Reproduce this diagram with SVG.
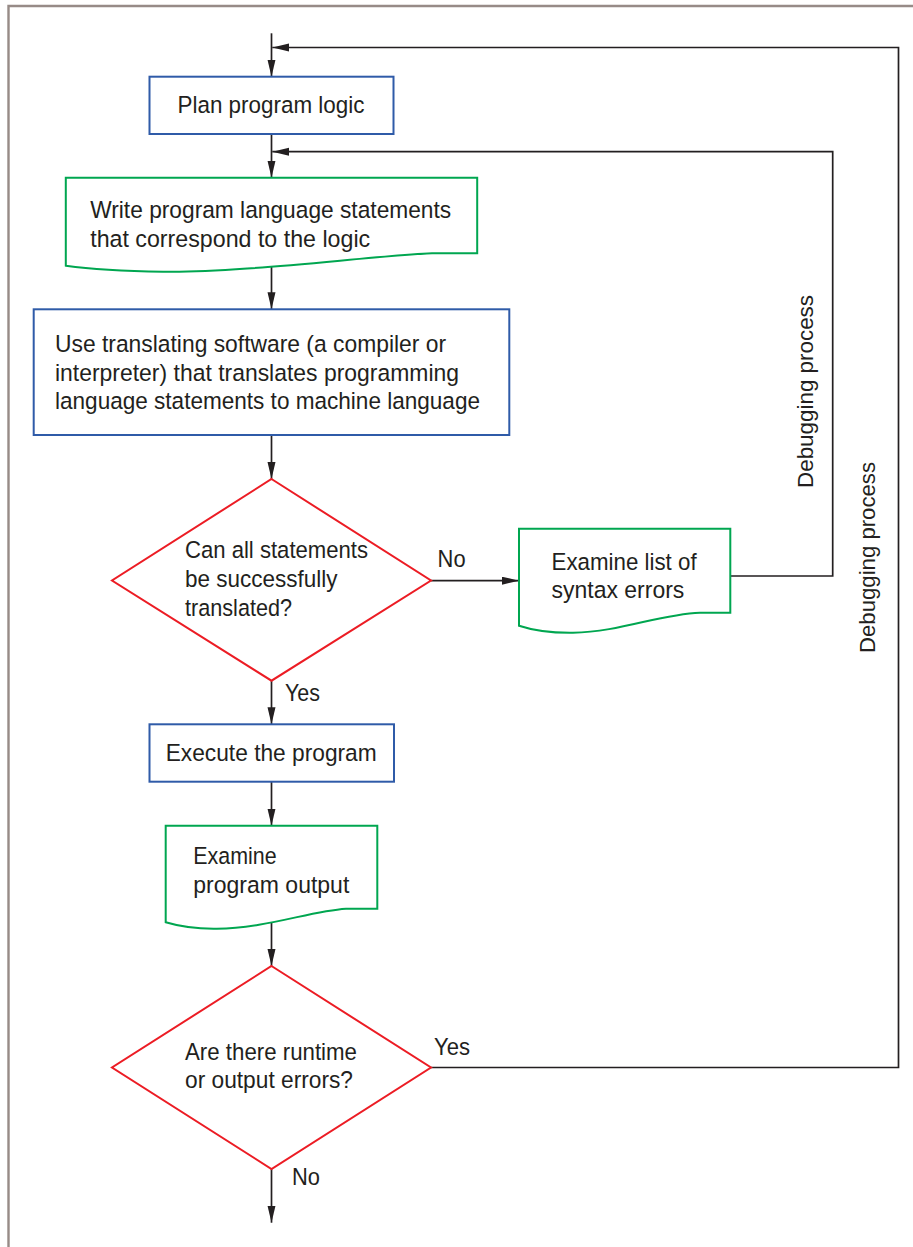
<svg xmlns="http://www.w3.org/2000/svg" width="913" height="1247" viewBox="0 0 913 1247">
<defs>
<marker id="ah" markerUnits="userSpaceOnUse" markerWidth="18" markerHeight="9" refX="17" refY="4" orient="auto">
<path d="M0,0 L17,4 L0,8 Z" fill="#231f20"/>
</marker>
<style>
.t{font-family:"Liberation Sans",Arial,sans-serif;font-size:24.5px;fill:#231f20}
.d{font-family:"Liberation Sans",Arial,sans-serif;font-size:22.5px;fill:#231f20}
.blue{fill:#fff;stroke:#2f5ba8;stroke-width:2}
.green{fill:#fff;stroke:#00a650;stroke-width:2}
.red{fill:#fff;stroke:#ec1c24;stroke-width:2}
.c{fill:none;stroke:#231f20;stroke-width:1.7}
.a{marker-end:url(#ah)}
.frame{fill:none;stroke:#978b87;stroke-width:2.4}
</style>
</defs>
<rect x="0" y="0" width="913" height="1247" fill="#fff"/>
<path class="frame" d="M8.5,1247 V6 H913"/>

<g id="connectors">
<path class="c a" d="M271.5,33.3 V76.7"/>
<path class="c a" d="M271.5,134 V177.7"/>
<path class="c a" d="M271.5,267 V309.3"/>
<path class="c a" d="M271.5,435 V479"/>
<path class="c a" d="M271.5,680.7 V724.3"/>
<path class="c a" d="M271.5,781.7 V825.7"/>
<path class="c a" d="M271.5,921.7 V966"/>
<path class="c a" d="M271.5,1169 V1222.7"/>
<path class="c a" d="M431,580.7 H519"/>
<path class="c a" d="M730.3,576 H832.7 V151.7 H272.3"/>
<path class="c a" d="M431,1067.5 H898.5 V47.5 H272.3"/>
</g>

<g id="plan">
<rect class="blue" x="149.5" y="76.7" width="244" height="57.3"/>
<text class="t" x="177.5" y="112.7" textLength="187" lengthAdjust="spacingAndGlyphs">Plan program logic</text>
</g>

<g id="write">
<path class="green" d="M65.8,265.7 L65.8,177.7 L477.2,177.7 L477.2,253.3 L432,253.3 C370,256 240,273 163,271.7 C120,271 90,269 65.8,265.7 Z"/>
<text class="t" x="90.2" y="218.3" textLength="361" lengthAdjust="spacingAndGlyphs">Write program language statements</text>
<text class="t" x="90.2" y="246.7" textLength="280" lengthAdjust="spacingAndGlyphs">that correspond to the logic</text>
</g>

<g id="translate">
<rect class="blue" x="33.7" y="309.3" width="475.6" height="125.7"/>
<text class="t" x="55" y="351.7" textLength="391" lengthAdjust="spacingAndGlyphs">Use translating software (a compiler or</text>
<text class="t" x="55" y="380.7" textLength="404" lengthAdjust="spacingAndGlyphs">interpreter) that translates programming</text>
<text class="t" x="55" y="409" textLength="425" lengthAdjust="spacingAndGlyphs">language statements to machine language</text>
</g>

<g id="decision1">
<polygon class="red" points="271.5,479 431,580.5 271.5,680.7 112,580.5"/>
<text class="t" x="185" y="558.3" textLength="183" lengthAdjust="spacingAndGlyphs">Can all statements</text>
<text class="t" x="185" y="587.3" textLength="152.5" lengthAdjust="spacingAndGlyphs">be successfully</text>
<text class="t" x="185" y="616" textLength="107" lengthAdjust="spacingAndGlyphs">translated?</text>
</g>

<g id="syntax">
<path class="green" d="M519,625.7 L519,528.7 L730.3,528.7 L730.3,612.7 L700,612.7 C660,614 620,632 573,632.7 C550,633 532,630 519,625.7 Z"/>
<text class="t" x="551.6" y="570" textLength="145" lengthAdjust="spacingAndGlyphs">Examine list of</text>
<text class="t" x="551.6" y="598.3" textLength="132.7" lengthAdjust="spacingAndGlyphs">syntax errors</text>
</g>

<g id="execute">
<rect class="blue" x="149.5" y="724.3" width="244.5" height="57.4"/>
<text class="t" x="165.7" y="760.7" textLength="211" lengthAdjust="spacingAndGlyphs">Execute the program</text>
</g>

<g id="output">
<path class="green" d="M165.7,922.3 L165.7,825.7 L377.3,825.7 L377.3,908.7 L346,908.7 C310,911 268,928 216.7,928.7 C195,929 178,926 165.7,922.3 Z"/>
<text class="t" x="193.3" y="864.3" textLength="83.3" lengthAdjust="spacingAndGlyphs">Examine</text>
<text class="t" x="193.3" y="892.7" textLength="156" lengthAdjust="spacingAndGlyphs">program output</text>
</g>

<g id="decision2">
<polygon class="red" points="271.5,966 431,1067.5 271.5,1169 112,1067.5"/>
<text class="t" x="185" y="1060" textLength="172" lengthAdjust="spacingAndGlyphs">Are there runtime</text>
<text class="t" x="185" y="1088.3" textLength="168" lengthAdjust="spacingAndGlyphs">or output errors?</text>
</g>

<g id="labels">
<text class="t" x="437.6" y="566.7" textLength="28" lengthAdjust="spacingAndGlyphs">No</text>
<text class="t" x="285" y="700.7" textLength="35" lengthAdjust="spacingAndGlyphs">Yes</text>
<text class="t" x="434" y="1055.3" textLength="36" lengthAdjust="spacingAndGlyphs">Yes</text>
<text class="t" x="292" y="1185" textLength="28" lengthAdjust="spacingAndGlyphs">No</text>
<text class="d" transform="translate(813,488) rotate(-90)" x="0" y="0" textLength="193" lengthAdjust="spacingAndGlyphs">Debugging process</text>
<text class="d" transform="translate(875,653) rotate(-90)" x="0" y="0" textLength="191" lengthAdjust="spacingAndGlyphs">Debugging process</text>
</g>
</svg>
